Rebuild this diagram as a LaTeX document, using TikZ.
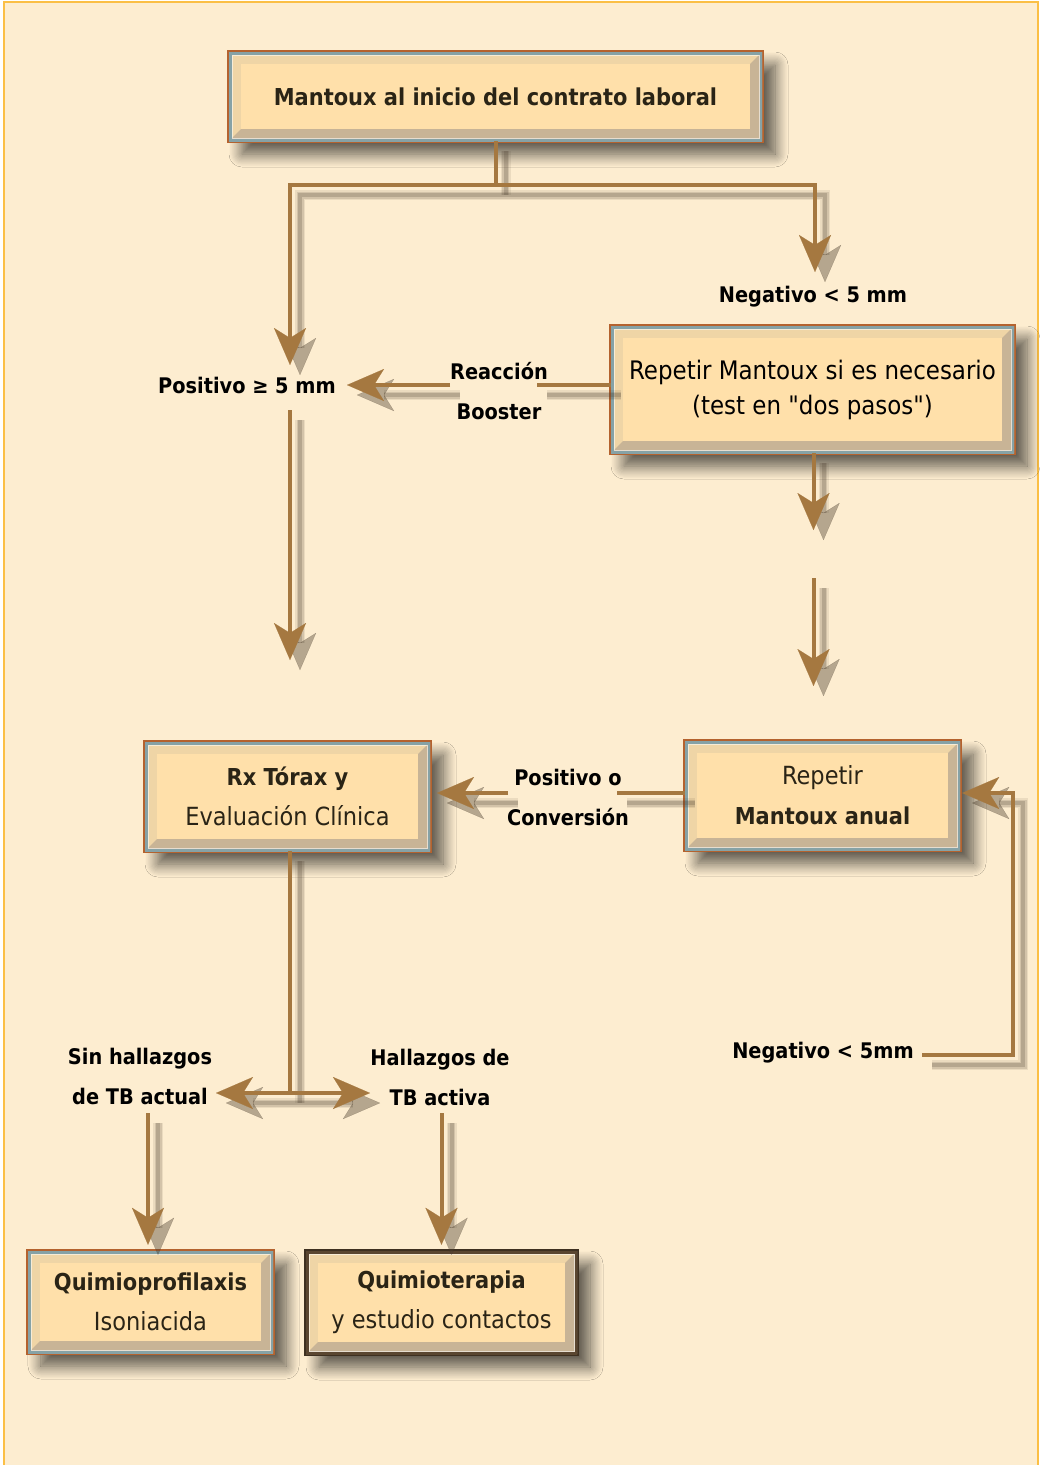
\documentclass[tikz,border=0pt]{standalone}
\usepackage{fontspec}
\setmainfont{DejaVu Sans Condensed}[Ligatures=TeXOff]
\usetikzlibrary{arrows.meta,shadows.blur}

\definecolor{pagebg}{HTML}{FDEDD0}
\definecolor{pageedge}{HTML}{FBBF45}
\definecolor{linkcol}{HTML}{A57840}
\definecolor{ghostcol}{HTML}{4E4030}
\definecolor{boxface}{HTML}{FFE0AA}
\definecolor{bevlight}{HTML}{EFD5A6}
\definecolor{bevdark}{HTML}{C8B496}
\definecolor{rimorange}{HTML}{B4622E}
\definecolor{rimblue}{HTML}{86A2A6}
\definecolor{rimdark}{HTML}{3E3020}
\definecolor{rimdarkin}{HTML}{5A4630}
\definecolor{inktext}{HTML}{2A2416}

\newcommand\boxreg{\fontsize{25}{40}\selectfont}
\newcommand\boxbold{\fontsize{23.3}{40}\selectfont\bfseries}
\newcommand\labfont{\fontsize{21.5}{40}\selectfont\bfseries}

% connector drawn with a soft offset shadow underneath
\newcommand\flow[2][]{%
  \begin{scope}[transform canvas={shift={(10pt,-10pt)}}]
    \draw[ghost,line width=10pt,opacity=.10,#1] #2;
    \draw[ghost,line width=7pt,opacity=.15,#1] #2;
    \draw[ghost,line width=4pt,opacity=.22,#1] #2;
  \end{scope}
  \draw[link,#1] #2;}

\tikzset{
  rim outer/.store in=\rimouter, rim inner/.store in=\riminner,
  rim outer=rimorange, rim inner=rimblue,
  panel/.style={rectangle, inner sep=0pt, align=center, text=inktext,
    font=\boxreg, fill=bevlight,
    blur shadow={shadow xshift=13pt, shadow yshift=-13pt,
      shadow blur radius=13pt, shadow opacity=65, shadow blur steps=12},
    preaction={draw=\rimouter, line width=4pt},
    path picture={
      \fill[bevdark] (path picture bounding box.south west)
        -- (path picture bounding box.south east)
        -- (path picture bounding box.north east)
        -- ([shift={(-12pt,-12pt)}]path picture bounding box.north east)
        -- ([shift={(-12pt,12pt)}]path picture bounding box.south east)
        -- ([shift={(12pt,12pt)}]path picture bounding box.south west)
        -- cycle;
      \fill[boxface] ([shift={(12pt,12pt)}]path picture bounding box.south west)
        rectangle ([shift={(-12pt,-12pt)}]path picture bounding box.north east);
      \draw[\riminner, line width=5pt] (path picture bounding box.south west)
        rectangle (path picture bounding box.north east);
      \draw[white, opacity=.55, line width=.8pt]
        ([shift={(3pt,3pt)}]path picture bounding box.south west)
        rectangle ([shift={(-3pt,-3pt)}]path picture bounding box.north east);
    }},
  darkpanel/.style={panel, rim outer=rimdark, rim inner=rimdarkin},
  lab/.style={inner sep=0pt, align=center, text=black, font=\labfont},
  link/.style={draw=linkcol, line width=4pt},
  ghost/.style={draw=ghostcol},
  arrowend/.style={-{Stealth[length=37pt,width=32pt,inset=10pt,line width=.1pt]}},
  arrowboth/.style={{Stealth[length=37pt,width=32pt,inset=10pt,line width=.1pt]}-{Stealth[length=37pt,width=32pt,inset=10pt,line width=.1pt]}},
}

\begin{document}
\begin{tikzpicture}[x=1pt,y=-1pt]
\useasboundingbox (0,0) rectangle (1040,1465);
\fill[white] (0,0) rectangle (1040,1465);
\draw[fill=pagebg, draw=pageedge, line width=2pt] (4,2) rectangle (1038,1480);

% boxes
\node[panel, font=\boxbold, minimum width=533pt, minimum height=89pt] (start) at (495.5,96.5)
  {Mantoux al inicio del contrato laboral};
\node[panel, text=black, font=\fontsize{25.5}{35}\selectfont, minimum width=403pt, minimum height=127pt] (rep) at (812.5,389.5)
  {Repetir Mantoux si es necesario\\(test en "dos pasos")};
\node[panel, minimum width=285pt, minimum height=109pt] (rx) at (287.5,796.5)
  {{\boxbold Rx Tórax y}\\Evaluación Clínica};
\node[panel, minimum width=275pt, minimum height=109pt] (anual) at (822.5,795.5)
  {Repetir\\{\boxbold Mantoux anual}};
\node[panel, minimum width=245pt, minimum height=102pt] (qp) at (150.5,1302)
  {{\boxbold Quimioprofilaxis}\\Isoniacida};
\node[darkpanel, minimum width=271pt, minimum height=103pt] (qt) at (441.5,1302.5)
  {{\boxbold Quimioterapia}\\y estudio contactos};

% labels
\node[lab] (neg1) at (813,297) {Negativo < 5 mm};
\node[lab] (pos) at (247,385) {Positivo ≥ 5 mm};
\node[lab] (rb) at (499,391) {Reacción\\Booster};
\node[lab] (pc) at (568,797) {Positivo o\\Conversión};
\node[lab] (neg2) at (823,1053) {Negativo < 5mm};
\node[lab] (sin) at (140,1076) {Sin hallazgos\\de TB actual};
\node[lab] (hal) at (440,1077) {Hallazgos de\\TB activa};

% connector points
\coordinate (j1) at (495.5,185);
\coordinate (pTip) at (290,365);
\coordinate (nTip) at (815,272);
\coordinate (rbR) at (537,385);
\coordinate (rbL) at (450,385);
\coordinate (rbTip) at (347,385);
\coordinate (pdTop) at (290,410);
\coordinate (pdTip) at (290,660);
\coordinate (rdTip) at (813.5,530);
\coordinate (r2Top) at (813.5,578);
\coordinate (r2Tip) at (813.5,686);
\coordinate (pcR) at (617,793);
\coordinate (pcL) at (508,793);
\coordinate (pcTip) at (437,793);
\coordinate (lpStart) at (922,1055);
\coordinate (lp) at (1013,1055);
\coordinate (bj) at (290,1093);
\coordinate (bl) at (216,1093);
\coordinate (br) at (370,1093);
\coordinate (s1) at (148,1113);
\coordinate (h1) at (441.5,1113);

% connectors
\flow{(start.south) -- (j1)}
\flow[arrowend]{(j1) -| (pTip)}
\flow[arrowend]{(j1) -| (nTip)}
\flow{(rep.west |- rbR) -- (rbR)}
\flow[arrowend]{(rbL) -- (rbTip)}
\flow[arrowend]{(pdTop) -- (pdTip)}
\flow[arrowend]{(rep.south -| rdTip) -- (rdTip)}
\flow[arrowend]{(r2Top) -- (r2Tip)}
\flow{(anual.west |- pcR) -- (pcR)}
\flow[arrowend]{(pcL) -- (pcTip)}
\flow[arrowend]{(lpStart) -| (lp) |- ([xshift=2pt]anual.east |- pcR)}
\flow{(bj |- rx.south) -- (bj)}
\flow[arrowboth]{(bl) -- (br)}
\flow[arrowend]{(s1) -- ([yshift=6pt]s1 |- qp.north)}
\flow[arrowend]{(h1) -- ([yshift=6pt]h1 |- qt.north)}
\end{tikzpicture}
\end{document}
